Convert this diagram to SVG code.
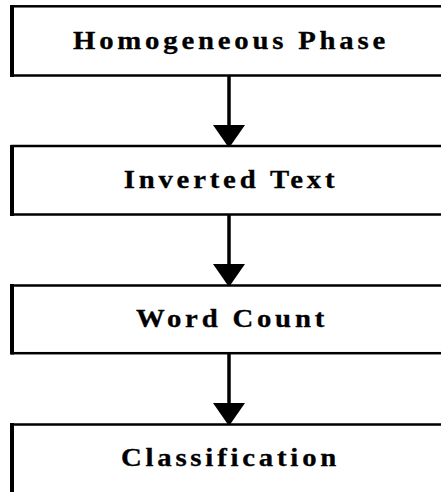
<svg xmlns="http://www.w3.org/2000/svg" width="441" height="492" viewBox="0 0 441 492">
<style>
.box{fill:#fff;stroke:#000;stroke-width:2.5}
.edge{stroke:#000;stroke-width:4}
.lbl{font-family:"Liberation Serif","Times New Roman",serif;font-weight:bold;font-size:25px;letter-spacing:3.3px;text-anchor:middle;fill:#000;stroke:#000;stroke-width:0.3}
.shaft{stroke:#000;stroke-width:3.5}
.head{fill:#000}
</style>
<rect width="441" height="492" fill="#fff"/>
<g id="connectors">
<line class="shaft" x1="229" y1="76" x2="229" y2="126"/>
<polygon class="head" points="213,125 245,125 229,148"/>
<line class="shaft" x1="229" y1="215" x2="229" y2="265"/>
<polygon class="head" points="213,264 245,264 229,287"/>
<line class="shaft" x1="229" y1="354" x2="229" y2="404"/>
<polygon class="head" points="213,403 245,403 229,426"/>
</g>
<g id="node1">
<rect class="box" x="12" y="6.3" width="440" height="69.2"/>
<line class="edge" x1="12" y1="5" x2="12" y2="77"/>
<text class="lbl" transform="translate(231,48.5) scale(1.15,1)">Homogeneous Phase</text>
</g>
<g id="node2">
<rect class="box" x="12" y="146" width="440" height="68.5"/>
<line class="edge" x1="12" y1="145" x2="12" y2="216"/>
<text class="lbl" transform="translate(231,188) scale(1.15,1)">Inverted Text</text>
</g>
<g id="node3">
<rect class="box" x="12" y="285.5" width="440" height="67.7"/>
<line class="edge" x1="12" y1="284" x2="12" y2="354.5"/>
<text class="lbl" transform="translate(232,327) scale(1.15,1)">Word Count</text>
</g>
<g id="node4">
<rect class="box" x="12" y="424.5" width="440" height="80"/>
<line class="edge" x1="12" y1="423" x2="12" y2="492"/>
<text class="lbl" transform="translate(230.5,466) scale(1.15,1)">Classification</text>
</g>
</svg>
